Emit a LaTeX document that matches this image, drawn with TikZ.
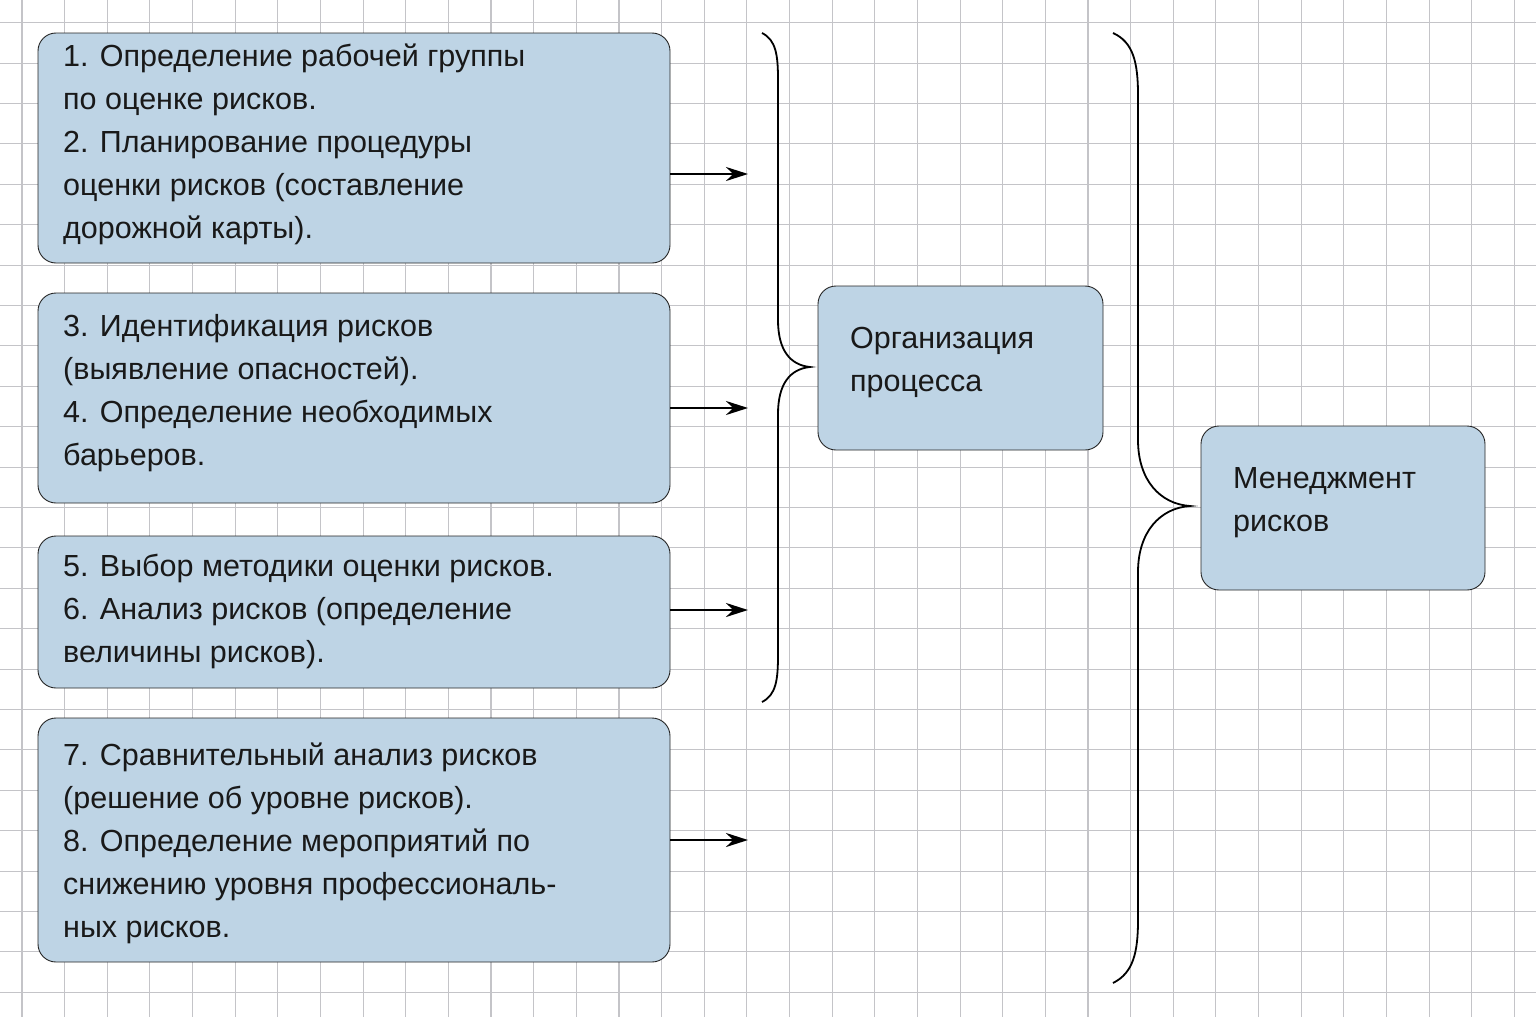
\documentclass[tikz,border=0pt]{standalone}
\usepackage{fontspec}
\setmainfont{Liberation Sans}
\usetikzlibrary{arrows.meta}
\definecolor{boxblue}{HTML}{BED4E5}
\definecolor{gridgray}{HTML}{C4C4C8}
\begin{document}
\begin{tikzpicture}[x=1pt,y=-1pt,
  box/.style={draw=black!85,line width=0.9pt,fill=boxblue,rounded corners=18pt},
  txt/.style={anchor=north west,align=left,inner sep=0pt,font=\fontsize{30.5}{43}\selectfont,text=black!90},
  arr/.style={line width=2.6pt,-{Stealth[length=22pt,width=14pt]}},
  brace/.style={line width=1.8pt}]
\useasboundingbox (0,0) rectangle (1536,1017);
\fill[white] (0,0) rectangle (1536,1017);
\foreach \k in {0,...,35}{\draw[gridgray,line width=1.1pt] ({22+42.64*\k},0) -- ({22+42.64*\k},1017);}
\foreach \k in {0,...,24}{\draw[gridgray,line width=1.1pt] (0,{22.7+40.4*\k}) -- (1536,{22.7+40.4*\k});}
\draw[box] (38,33) rectangle (670,263);
\draw[box] (38,293) rectangle (670,503);
\draw[box] (38,536) rectangle (670,688);
\draw[box] (38,718) rectangle (670,962);
\draw[box] (818,286) rectangle (1103,450);
\draw[box] (1201,426) rectangle (1485,590);
\node[txt] (t1) at (63,44) {1. Определение рабочей группы\\по оценке рисков.\\2. Планирование процедуры\\оценки рисков (составление\\дорожной карты).};
\node[txt] (t2) at (63,314) {3. Идентификация рисков\\(выявление опасностей).\\4. Определение необходимых\\барьеров.};
\node[txt] (t3) at (63,554) {5. Выбор методики оценки рисков.\\6. Анализ рисков (определение\\величины рисков).};
\node[txt] (t4) at (63,743) {7. Сравнительный анализ рисков\\(решение об уровне рисков).\\8. Определение мероприятий по\\снижению уровня профессиональ-\\ных рисков.};
\node[txt] (t5) at (850,327) {Организация\\процесса};
\node[txt] (t6) at (1233,467) {Менеджмент\\рисков};
\coordinate (a1) at (670,174); \coordinate (b1) at (748,174);
\coordinate (a2) at (670,408); \coordinate (b2) at (748,408);
\coordinate (a3) at (670,610); \coordinate (b3) at (748,610);
\coordinate (a4) at (670,840); \coordinate (b4) at (748,840);
\draw[arr] (a1) -- (b1);
\draw[arr] (a2) -- (b2);
\draw[arr] (a3) -- (b3);
\draw[arr] (a4) -- (b4);
\draw[brace] (762,33) .. controls (776,40) and (778,55) .. (778,80) -- (778,320) .. controls (778,350) and (790,365) .. (810,367) .. controls (790,369) and (778,384) .. (778,414) -- (778,655) .. controls (778,680) and (776,695) .. (762,702);
\draw[brace] (1113,33) .. controls (1133,42) and (1138,62) .. (1138,95) -- (1138,440) .. controls (1138,480) and (1160,504) .. (1190,506) .. controls (1160,508) and (1138,532) .. (1138,572) -- (1138,920) .. controls (1138,953) and (1133,973) .. (1113,983);
\end{tikzpicture}
\end{document}
